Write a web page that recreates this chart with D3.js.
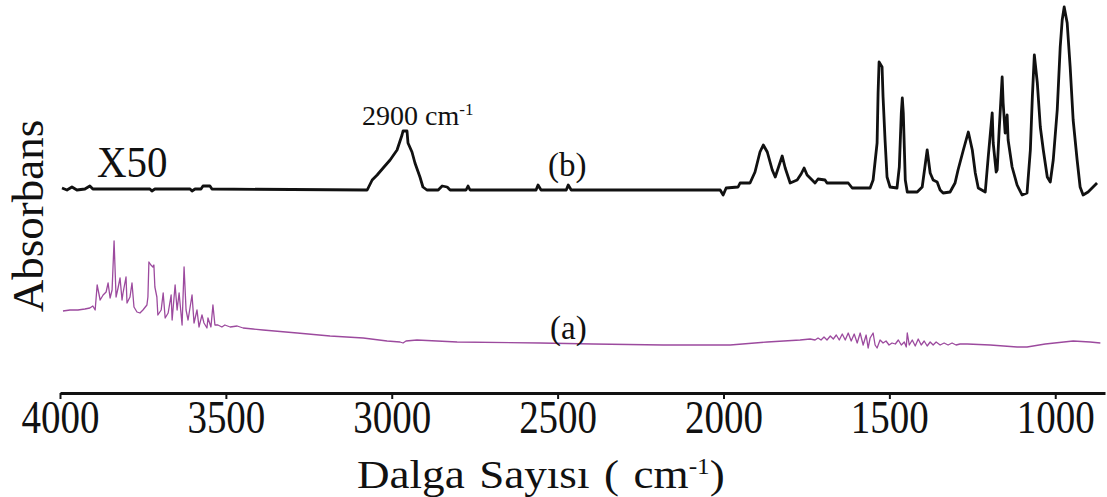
<!DOCTYPE html>
<html>
<head>
<meta charset="utf-8">
<script src="https://cdn.jsdelivr.net/npm/d3@7"></script>
<style>
  body { margin: 0; background: #fff; }
  svg text { font-family: "Liberation Serif", "Times New Roman", serif; fill: #111; }
</style>
</head>
<body>
<div id="chart"></div>
<script>
// Set up SVG params
var svgWdt = 1107;
var svgHgt = 497;

// Axis ticks and labels
var xTicks = [4000, 3500, 3000, 2500, 2000, 1500, 1000];
var xTitle = "Dalga Sayısı ( cm";
var yTitle = "Absorbans";

// Spectrum (b) x50 : wavenumber (cm-1)
var waveB = [3994, 3979, 3964, 3949, 3925, 3910, 3901, 3729, 3723, 3714, 3608, 3602, 3593, 3575, 3569,
    3548, 3542, 3074, 3059, 3044, 3026, 3005, 2984, 2969, 2966, 2954, 2951, 2939, 2930, 2915, 2906,
    2894, 2860, 2848, 2833, 2824, 2776, 2770, 2764, 2565, 2559, 2550, 2474, 2468, 2459, 2010, 2001,
    1992, 1956, 1950, 1920, 1905, 1890, 1880, 1868, 1853, 1844, 1832, 1823, 1814, 1799, 1778, 1766,
    1757, 1748, 1739, 1724, 1715, 1694, 1688, 1624, 1612, 1558, 1549, 1537, 1534, 1531, 1522, 1519,
    1513, 1507, 1498, 1477, 1470, 1464, 1461, 1458, 1452, 1446, 1416, 1401, 1386, 1377, 1368, 1356,
    1347, 1338, 1317, 1302, 1293, 1277, 1262, 1250, 1241, 1232, 1211, 1202, 1190, 1187, 1178, 1175,
    1169, 1160, 1157, 1151, 1145, 1142, 1130, 1115, 1100, 1085, 1075, 1069, 1063, 1054, 1045, 1036,
    1024, 1015, 1006, 994, 985, 979, 973, 964, 955, 946, 934, 925, 916, 901, 886, 874];
// Spectrum (b) absorbance (offset, arbitrary units)
var absB = [2.05, 2.03, 2.06, 2.03, 2.04, 2.07, 2.04, 2.04, 2.02, 2.04, 2.04, 2.02, 2.04, 2.04, 2.07,
    2.07, 2.04, 2.03, 2.13, 2.18, 2.25, 2.33, 2.43, 2.58, 2.62, 2.62, 2.50, 2.41, 2.30, 2.16, 2.06,
    2.03, 2.03, 2.07, 2.06, 2.03, 2.03, 2.07, 2.03, 2.03, 2.08, 2.03, 2.03, 2.08, 2.03, 2.03, 1.98,
    2.05, 2.06, 2.10, 2.10, 2.21, 2.41, 2.48, 2.41, 2.23, 2.16, 2.28, 2.37, 2.25, 2.10, 2.13, 2.19,
    2.25, 2.18, 2.15, 2.10, 2.14, 2.13, 2.10, 2.10, 2.05, 2.05, 2.13, 2.50, 3.00, 3.31, 3.26, 2.96,
    2.53, 2.16, 2.06, 2.05, 2.26, 2.80, 2.95, 2.80, 2.13, 2.01, 2.01, 2.06, 2.43, 2.20, 2.13, 2.11,
    2.03, 2.00, 2.01, 2.10, 2.23, 2.43, 2.61, 2.43, 2.20, 2.05, 2.01, 2.36, 2.80, 2.50, 2.21, 2.23,
    2.63, 3.16, 2.90, 2.60, 2.78, 2.53, 2.26, 2.08, 1.98, 2.00, 2.43, 2.96, 3.38, 3.10, 2.66, 2.43,
    2.16, 2.11, 2.33, 2.83, 3.46, 3.73, 3.86, 3.70, 3.26, 2.73, 2.33, 2.06, 1.98, 2.01, 2.06, 2.10];

// Spectrum (a) : wavenumber (cm-1)
var waveA = [3991, 3970, 3946, 3925, 3910, 3901, 3894, 3888, 3879, 3870, 3861, 3855, 3849, 3843, 3837,
    3831, 3825, 3819, 3813, 3810, 3801, 3798, 3789, 3783, 3777, 3768, 3759, 3750, 3738, 3735, 3732,
    3726, 3720, 3717, 3714, 3708, 3705, 3695, 3689, 3683, 3674, 3665, 3662, 3653, 3647, 3641, 3632,
    3626, 3620, 3614, 3602, 3596, 3587, 3581, 3572, 3566, 3557, 3554, 3545, 3539, 3533, 3524, 3512,
    3503, 3487, 3466, 3448, 3418, 3388, 3285, 3186, 3086, 3014, 2975, 2966, 2957, 2924, 2803, 2553,
    2393, 2182, 1980, 1868, 1769, 1739, 1724, 1715, 1706, 1697, 1688, 1678, 1669, 1660, 1651, 1642,
    1633, 1624, 1615, 1606, 1597, 1588, 1579, 1570, 1564, 1558, 1549, 1543, 1537, 1528, 1519, 1510,
    1501, 1492, 1482, 1473, 1464, 1455, 1449, 1446, 1440, 1431, 1422, 1413, 1404, 1395, 1386, 1377,
    1368, 1359, 1347, 1335, 1323, 1311, 1299, 1287, 1265, 1196, 1115, 1085, 1030, 946, 895, 864];
// Spectrum (a) absorbance (arbitrary units)
var absA = [0.82, 0.83, 0.83, 0.84, 0.85, 0.87, 0.83, 1.08, 0.93, 0.98, 1.01, 1.10, 0.95, 1.03, 1.52,
    0.96, 1.05, 1.15, 0.93, 1.00, 1.16, 0.90, 0.96, 1.10, 0.86, 0.81, 0.80, 0.83, 0.88, 0.96, 1.31,
    1.28, 1.26, 1.28, 1.06, 0.96, 0.78, 0.83, 1.00, 0.75, 0.80, 0.98, 0.73, 1.08, 0.83, 1.00, 0.68,
    1.26, 0.83, 0.73, 0.98, 0.70, 0.83, 0.66, 0.78, 0.70, 0.65, 0.75, 0.66, 0.88, 0.68, 0.68, 0.66,
    0.68, 0.66, 0.67, 0.65, 0.64, 0.63, 0.60, 0.57, 0.55, 0.52, 0.51, 0.50, 0.52, 0.53, 0.51, 0.50,
    0.49, 0.48, 0.48, 0.51, 0.53, 0.54, 0.53, 0.55, 0.53, 0.56, 0.53, 0.57, 0.54, 0.58, 0.53, 0.59,
    0.53, 0.60, 0.52, 0.59, 0.50, 0.60, 0.48, 0.58, 0.45, 0.55, 0.60, 0.48, 0.45, 0.53, 0.50, 0.52,
    0.48, 0.50, 0.49, 0.53, 0.48, 0.51, 0.46, 0.60, 0.48, 0.53, 0.47, 0.54, 0.48, 0.52, 0.47, 0.51,
    0.48, 0.51, 0.48, 0.50, 0.48, 0.50, 0.48, 0.49, 0.49, 0.48, 0.46, 0.46, 0.49, 0.52, 0.51, 0.50];

// Set up scales
var xScl = d3.scaleLinear().domain([4000, 850]).range([60, 1105]);
var yScl = d3.scaleLinear().domain([0, 3.93]).range([393, 0]);

var svg = d3.select("#chart").append("svg")
    .attr("width", svgWdt)
    .attr("height", svgHgt);

// Bottom axis
var botRule = d3.axisBottom(xScl)
    .tickValues(xTicks)
    .tickSize(6)
    .tickSizeOuter(0)
    .tickFormat(d3.format("d"));

var xAxis = svg.append("g")
    .attr("transform", "translate(0, 393)")
    .call(botRule);
xAxis.select(".domain").attr("stroke", "#111").attr("stroke-width", 3);
xAxis.selectAll(".tick line").attr("stroke", "#111").attr("stroke-width", 2);
xAxis.selectAll(".tick text")
    .attr("y", 0)
    .attr("dy", 0)
    .attr("transform", "translate(0, 40) scale(1, 1.17)")
    .style("font-size", "39px")
    .style("font-family", "'Liberation Serif', serif")
    .attr("fill", "#111");

// Line builder
var line = d3.line()
    .x(d => xScl(d[0]))
    .y(d => yScl(d[1]));

var ptsA = waveA.map((w, i) => [w, absA[i]]);
var ptsB = waveB.map((w, i) => [w, absB[i]]);

// Spectrum (a)
svg.append("path")
    .datum(ptsA)
    .attr("d", line)
    .attr("fill", "none")
    .attr("stroke", "#9c4a9e")
    .attr("stroke-width", 1.3)
    .attr("stroke-linejoin", "round");

// Spectrum (b)
svg.append("path")
    .datum(ptsB)
    .attr("d", line)
    .attr("fill", "none")
    .attr("stroke", "#111")
    .attr("stroke-width", 2.8)
    .attr("stroke-linejoin", "round");

// Labels
svg.append("text")
    .attr("transform", "translate(97, 177) scale(1, 1.1)")
    .style("font-size", "41px")
    .text("X50");

var pk = svg.append("text")
    .attr("x", 362)
    .attr("y", 125)
    .style("font-size", "28px");
pk.append("tspan").text("2900 cm");
pk.append("tspan").attr("dy", -10).style("font-size", "17px").text("-1");

svg.append("text")
    .attr("x", 548)
    .attr("y", 176)
    .style("font-size", "33px")
    .text("(b)");

svg.append("text")
    .attr("x", 550)
    .attr("y", 339)
    .style("font-size", "33px")
    .text("(a)");

// Y title
svg.append("text")
    .attr("transform", "translate(43, 216) rotate(-90)")
    .attr("text-anchor", "middle")
    .style("font-size", "45px")
    .text(yTitle);

// X title
var xt = svg.append("text")
    .attr("transform", "translate(357, 488) scale(1.1, 1)")
    .style("font-size", "41px")
    .style("word-spacing", "3px");
xt.append("tspan").text(xTitle);
xt.append("tspan").attr("dy", -14).style("font-size", "23px").text("-1");
xt.append("tspan").attr("dy", 14).text(")");
</script>
</body>
</html>
